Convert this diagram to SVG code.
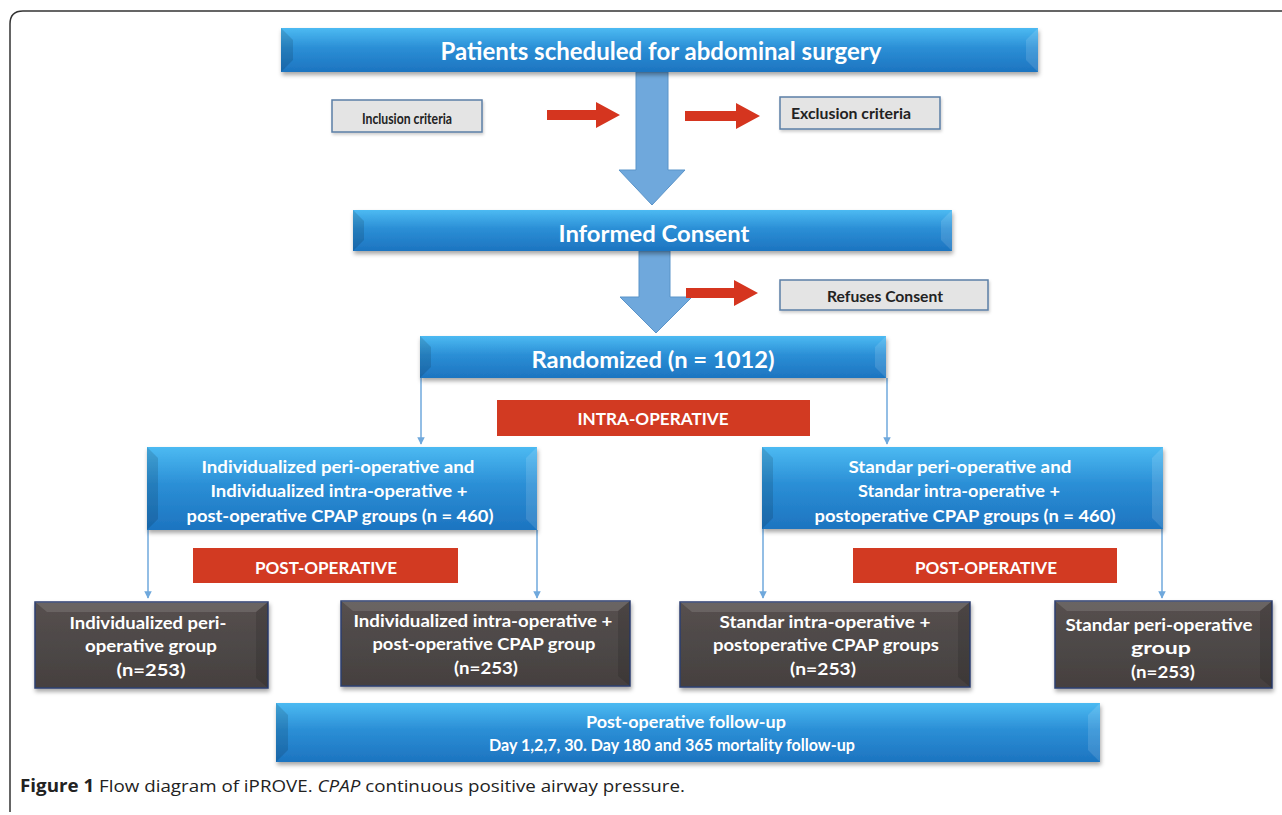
<svg xmlns="http://www.w3.org/2000/svg" width="1282" height="815" viewBox="0 0 1282 815">
<defs>
<linearGradient id="gBlue" x1="0" y1="0" x2="0" y2="1">
<stop offset="0" stop-color="#4cbaf2"/>
<stop offset="0.45" stop-color="#2b8fd6"/>
<stop offset="1" stop-color="#1d74c0"/>
</linearGradient>
<linearGradient id="gDark" x1="0" y1="0" x2="0" y2="1">
<stop offset="0" stop-color="#56504f"/>
<stop offset="1" stop-color="#45403f"/>
</linearGradient>
<filter id="sh" x="-5%" y="-20%" width="110%" height="150%">
<feDropShadow dx="1" dy="3" stdDeviation="2" flood-color="#000" flood-opacity="0.35"/>
</filter>
<filter id="sh2" x="-5%" y="-20%" width="110%" height="150%">
<feDropShadow dx="1" dy="2" stdDeviation="1.5" flood-color="#000" flood-opacity="0.2"/>
</filter>
<marker id="ah" viewBox="0 0 10 10" refX="9" refY="5" markerWidth="5" markerHeight="5" orient="auto">
<path d="M0,0 L10,5 L0,10 z" fill="#6fa8dc"/>
</marker>
<style>
.blue{fill:url(#gBlue);filter:url(#sh)}
.dark{fill:url(#gDark);stroke:#2b3f70;stroke-width:1.5;filter:url(#sh)}
.bevL{fill:#000;opacity:0.12}
.bevR{fill:#fff;opacity:0.12}
.gray{fill:#e4e4e4;stroke:#5b7fa6;stroke-width:1.5;filter:url(#sh2)}
.red{fill:#d23a22}
.redArr{fill:#d5351f}
.bigArr{fill:#6fa8dc;stroke:#5b94c9;stroke-width:1}
.conn{stroke:#6fa8dc;stroke-width:1.5;fill:none;marker-end:url(#ah)}
.t{font-family:Lato,"Open Sans","Liberation Sans",sans-serif;font-weight:bold;text-anchor:middle}
.w{fill:#fff}
.k{fill:#222}
.cap{font-family:"Open Sans","Liberation Sans",sans-serif;font-size:17px;fill:#222}
</style>
</defs>
<rect width="1282" height="815" fill="#fff"/>
<path d="M10,812 L10,24 Q10,11 23,11 L1282,11" fill="none" stroke="#333" stroke-width="1.5"/>

<g id="connectors">
<line class="conn" x1="421" y1="378" x2="421" y2="444"/>
<line class="conn" x1="887" y1="378" x2="887" y2="444"/>
<line class="conn" x1="148" y1="530" x2="148" y2="598"/>
<line class="conn" x1="537" y1="530" x2="537" y2="598"/>
<line class="conn" x1="763" y1="529" x2="763" y2="598"/>
<line class="conn" x1="1162" y1="529" x2="1162" y2="598"/>
<path class="bigArr" d="M636,72 L668,72 L668,170 L685,170 L652,205 L619,170 L636,170 Z"/>
<path class="bigArr" d="M639,251 L670,251 L670,297 L692,297 L656,333 L620,297 L639,297 Z"/>
<path class="redArr" d="M547,110 L596,110 L596,102 L620,115 L596,128 L596,120 L547,120 Z"/>
<path class="redArr" d="M685,111 L736,111 L736,103 L760,116 L736,129 L736,121 L685,121 Z"/>
<path class="redArr" d="M686,288 L734,288 L734,280 L758,293 L734,306 L734,298 L686,298 Z"/>
</g>

<g id="n-patients">
<rect class="blue" x="281" y="28" width="757" height="44"/>
<polygon class="bevL" points="281,28 293,40 293,60 281,72"/>
<polygon class="bevR" points="1038,28 1026,40 1026,60 1038,72"/>
<text class="t w" x="661" y="60" font-size="25" textLength="441" lengthAdjust="spacingAndGlyphs">Patients scheduled for abdominal surgery</text>
</g>

<g id="n-inclusion">
<rect class="gray" x="332" y="100" width="150" height="32"/>
<text class="t k" x="407" y="124" font-size="15.5" textLength="90" lengthAdjust="spacingAndGlyphs">Inclusion criteria</text>
</g>

<g id="n-exclusion">
<rect class="gray" x="780" y="97" width="160" height="32"/>
<text class="t k" x="851" y="119" font-size="15.5" textLength="120" lengthAdjust="spacingAndGlyphs">Exclusion criteria</text>
</g>

<g id="n-consent">
<rect class="blue" x="353" y="210" width="599" height="41"/>
<polygon class="bevL" points="353,210 364,221 364,240 353,251"/>
<polygon class="bevR" points="952,210 941,221 941,240 952,251"/>
<text class="t w" x="654" y="242" font-size="23" textLength="191" lengthAdjust="spacingAndGlyphs">Informed Consent</text>
</g>

<g id="n-refuses">
<rect class="gray" x="780" y="280" width="208" height="30"/>
<text class="t k" x="885" y="302" font-size="15.5" textLength="116" lengthAdjust="spacingAndGlyphs">Refuses Consent</text>
</g>

<g id="n-randomized">
<rect class="blue" x="420" y="336" width="466" height="42"/>
<polygon class="bevL" points="420,336 431,347 431,367 420,378"/>
<polygon class="bevR" points="886,336 875,347 875,367 886,378"/>
<text class="t w" x="653" y="368" font-size="23" textLength="243" lengthAdjust="spacingAndGlyphs">Randomized (n = 1012)</text>
</g>

<g id="n-intra">
<rect class="red" x="497" y="400" width="313" height="36"/>
<text class="t w" x="653" y="425" font-size="17" textLength="151" lengthAdjust="spacingAndGlyphs">INTRA-OPERATIVE</text>
</g>

<g id="n-leftgroup">
<rect class="blue" x="147" y="447" width="390" height="83"/>
<polygon class="bevL" points="147,447 158,458 158,519 147,530"/>
<polygon class="bevR" points="537,447 526,458 526,519 537,530"/>
<text class="t w" font-size="17">
<tspan x="340" y="473" textLength="273" lengthAdjust="spacingAndGlyphs">Individualized peri-operative and</tspan>
<tspan x="341" y="497" textLength="257" lengthAdjust="spacingAndGlyphs">Individualized intra-operative +</tspan>
<tspan x="340" y="522" textLength="307" lengthAdjust="spacingAndGlyphs">post-operative CPAP groups (n = 460)</tspan>
</text>
</g>

<g id="n-rightgroup">
<rect class="blue" x="762" y="447" width="401" height="82"/>
<polygon class="bevL" points="762,447 773,458 773,518 762,529"/>
<polygon class="bevR" points="1163,447 1152,458 1152,518 1163,529"/>
<text class="t w" font-size="17">
<tspan x="962" y="473" textLength="223" lengthAdjust="spacingAndGlyphs">Standar peri-operative and</tspan>
<tspan x="961" y="497" textLength="202" lengthAdjust="spacingAndGlyphs">Standar intra-operative +</tspan>
<tspan x="965" y="522" textLength="301" lengthAdjust="spacingAndGlyphs">postoperative CPAP groups (n = 460)</tspan>
</text>
</g>

<g id="n-post-left">
<rect class="red" x="193" y="548" width="265" height="35"/>
<text class="t w" x="326" y="574" font-size="17" textLength="142" lengthAdjust="spacingAndGlyphs">POST-OPERATIVE</text>
</g>

<g id="n-post-right">
<rect class="red" x="853" y="548" width="264" height="35"/>
<text class="t w" x="986" y="574" font-size="17" textLength="142" lengthAdjust="spacingAndGlyphs">POST-OPERATIVE</text>
</g>

<g id="n-box1">
<rect class="dark" x="35" y="602" width="233" height="86"/>
<polygon class="bevR" points="35,602 268,602 256,612 47,612"/>
<polygon class="bevL" points="268,602 268,688 256,678 256,612"/>
<text class="t w" font-size="17">
<tspan x="150" y="629" textLength="157" lengthAdjust="spacingAndGlyphs">Individualized peri-</tspan>
<tspan x="153" y="652" textLength="132" lengthAdjust="spacingAndGlyphs">operative group</tspan>
<tspan x="151" y="676" textLength="69" lengthAdjust="spacingAndGlyphs">(n=253)</tspan>
</text>
</g>

<g id="n-box2">
<rect class="dark" x="341" y="601" width="289" height="85"/>
<polygon class="bevR" points="341,601 630,601 618,611 353,611"/>
<polygon class="bevL" points="630,601 630,686 618,676 618,611"/>
<text class="t w" font-size="17">
<tspan x="485" y="627" textLength="259" lengthAdjust="spacingAndGlyphs">Individualized intra-operative +</tspan>
<tspan x="486" y="650" textLength="223" lengthAdjust="spacingAndGlyphs">post-operative CPAP group</tspan>
<tspan x="486" y="674" textLength="64" lengthAdjust="spacingAndGlyphs">(n=253)</tspan>
</text>
</g>

<g id="n-box3">
<rect class="dark" x="680" y="602" width="290" height="85"/>
<polygon class="bevR" points="680,602 970,602 958,612 692,612"/>
<polygon class="bevL" points="970,602 970,687 958,677 958,612"/>
<text class="t w" font-size="17">
<tspan x="827" y="628" textLength="211" lengthAdjust="spacingAndGlyphs">Standar intra-operative +</tspan>
<tspan x="828" y="651" textLength="226" lengthAdjust="spacingAndGlyphs">postoperative CPAP groups</tspan>
<tspan x="823" y="675" textLength="66" lengthAdjust="spacingAndGlyphs">(n=253)</tspan>
</text>
</g>

<g id="n-box4">
<rect class="dark" x="1055" y="601" width="217" height="87"/>
<polygon class="bevR" points="1055,601 1272,601 1260,611 1067,611"/>
<polygon class="bevL" points="1272,601 1272,688 1260,678 1260,611"/>
<text class="t w" font-size="17">
<tspan x="1161" y="631" textLength="187" lengthAdjust="spacingAndGlyphs">Standar peri-operative</tspan>
<tspan x="1163" y="654" textLength="60" lengthAdjust="spacingAndGlyphs">group</tspan>
<tspan x="1163" y="678" textLength="64" lengthAdjust="spacingAndGlyphs">(n=253)</tspan>
</text>
</g>

<g id="n-followup">
<rect class="blue" x="276" y="703" width="824" height="59"/>
<polygon class="bevL" points="276,703 288,715 288,750 276,762"/>
<polygon class="bevR" points="1100,703 1088,715 1088,750 1100,762"/>
<text class="t w" font-size="17">
<tspan x="688" y="728" textLength="200" lengthAdjust="spacingAndGlyphs">Post-operative follow-up</tspan>
<tspan x="672" y="751" textLength="366" lengthAdjust="spacingAndGlyphs">Day 1,2,7, 30. Day 180 and 365 mortality follow-up</tspan>
</text>
</g>

<text class="cap" x="20" y="792" textLength="665" lengthAdjust="spacingAndGlyphs"><tspan font-weight="bold">Figure 1</tspan> Flow diagram of iPROVE. <tspan font-style="italic">CPAP</tspan> continuous positive airway pressure.</text>
</svg>
